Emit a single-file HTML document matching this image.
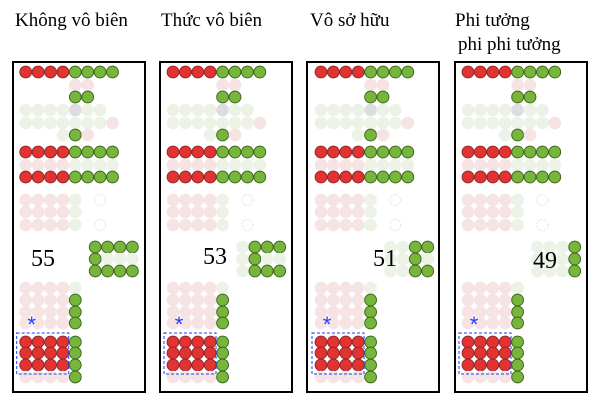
<!DOCTYPE html>
<html><head><meta charset="utf-8"><style>
html,body{margin:0;padding:0;background:#fff;}
svg{display:block;}
text{font-family:"Liberation Serif",serif;}
</style></head><body>
<svg id="s" width="600" height="402" viewBox="0 0 600 402" xmlns="http://www.w3.org/2000/svg">
<rect width="600" height="402" fill="#fff"/>
<text x="15" y="26" font-size="19">Không vô biên</text>
<text x="161" y="26" font-size="19">Thức vô biên</text>
<text x="310" y="26" font-size="19">Vô sở hữu</text>
<text x="455" y="26" font-size="19">Phi tưởng</text>
<text x="458" y="50" font-size="19">phi phi tưởng</text>
<g id="g"></g>
<text x="43" y="266" font-size="24" text-anchor="middle">55</text>
<text x="215" y="264" font-size="24" text-anchor="middle">53</text>
<text x="385" y="266" font-size="24" text-anchor="middle">51</text>
<text x="545" y="268" font-size="24" text-anchor="middle">49</text>
</svg>
<script>
var g=document.getElementById('g'),h='';
var C={R:['#e33232','#8e2b2b'],G:['#78b53c','#3d6a1c'],p:['#f6e3e3','none'],f:['#edf2e7','none'],y:['#dcdce2','none']};
function c(x,y,t){var k=C[t];h+='<circle cx="'+x.toFixed(1)+'" cy="'+y+'" r="'+(k[1]=='none'?6.3:5.9)+'" fill="'+k[0]+'" stroke="'+k[1]+'" stroke-width="1"/>';}
function row(x0,y,s){for(var i=0;i<s.length;i++){if(s[i]!='.')c(x0+i*12.4,y,s[i]);}}
var P=[[25.7,13,['GGGG','Gfff','GGGG']],[173,160,['fGGG','fGff','fGGG']],[321,307,['ffGG','ffGf','ffGG']],[468,455,['fffG','fffG','fffG']]];
P.forEach(function(p){var x0=p[0],L=p[1];
h+='<rect x="'+L+'" y="62" width="132" height="330" fill="none" stroke="#000" stroke-width="2"/>';
row(x0,72,'RRRRGGGG');row(x0,85,'....pp');row(x0,97,'....GG');
row(x0,110,'ffffyff');row(x0,123,'fffffffp');row(x0,135,'...fGp');
row(x0,152,'RRRRGGGG');row(x0,165,'ppppffff');row(x0,177,'RRRRGGGG');
[200,212,225].forEach(function(y){row(x0,y,'ppppf');});
h+='<circle cx="'+(x0+74.4)+'" cy="200" r="5.5" fill="none" stroke="#ddd" stroke-dasharray="1.5 1.5"/>';
h+='<circle cx="'+(x0+74.4)+'" cy="225" r="5.5" fill="none" stroke="#ddd" stroke-dasharray="1.5 1.5"/>';
[247,259,271].forEach(function(y,i){row(x0+69.5,y,p[2][i]);});
row(x0,288,'ppppf');
[300,312,323].forEach(function(y){row(x0,y,'ppppG');});
[342,353,365].forEach(function(y){row(x0,y,'RRRRG');});
row(x0,377,'ppppG');
h+='<text x="'+(x0+6)+'" y="332" font-size="22" fill="#2040ff" text-anchor="middle" style="font-family:Liberation Sans,sans-serif">*</text>';
h+='<rect x="'+(x0-9)+'" y="333" width="52" height="41" fill="none" stroke="#1a3cff" stroke-width="1" stroke-dasharray="3 2"/>';
});
g.innerHTML=h;
</script>
</body></html>
